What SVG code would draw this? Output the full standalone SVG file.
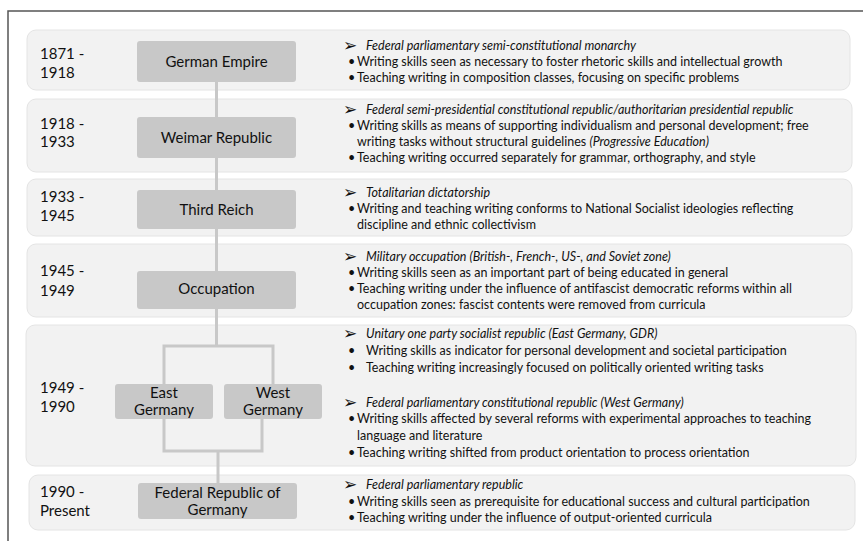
<svg xmlns="http://www.w3.org/2000/svg" width="863" height="541" viewBox="0 0 863 541">
<style>
.row{fill:#f2f2f2;stroke:#e4e4e4;stroke-width:1}
.node{fill:#c8c8c8}
.con{stroke:#c8c8c8;stroke-width:3;fill:none}
text{font-family:Lato,"Open Sans","Liberation Sans",sans-serif;fill:#111111}
.date{font-size:15px}
.nl{font-size:15px;text-anchor:middle}
.b{font-size:12.5px}
.h{font-size:12.5px;font-style:italic}
.ar{font-family:"DejaVu Sans",sans-serif;font-size:17px}
</style>
<rect width="863" height="541" fill="#ffffff"/>
<path d="M8 541 V11 H863" fill="none" stroke="#555555" stroke-width="1.5"/>
<g id="rows">
<rect class="row" x="27" y="30" width="823" height="60" rx="9"/>
<rect class="row" x="27" y="99" width="825" height="73" rx="9"/>
<rect class="row" x="27" y="179" width="825" height="57" rx="9"/>
<rect class="row" x="27" y="244" width="825" height="73" rx="9"/>
<rect class="row" x="26" y="325" width="830" height="141" rx="9"/>
<rect class="row" x="29" y="475" width="826" height="55" rx="9"/>
</g>
<g id="dates">
<text class="date" x="40" y="59">1871 -</text><text class="date" x="40" y="78">1918</text>
<text class="date" x="40" y="129">1918 -</text><text class="date" x="40" y="147">1933</text>
<text class="date" x="40" y="202">1933 -</text><text class="date" x="40" y="221">1945</text>
<text class="date" x="40" y="276">1945 -</text><text class="date" x="40" y="296">1949</text>
<text class="date" x="40" y="393">1949 -</text><text class="date" x="40" y="412">1990</text>
<text class="date" x="40" y="497">1990 -</text><text class="date" x="40" y="516">Present</text>
</g>
<g id="connectors">
<path class="con" d="M216.5 82 V346"/>
<path class="con" d="M164 384 V346 H273 V384"/>
<path class="con" d="M164 419 V451 H262 V419"/>
<path class="con" d="M218 451 V483"/>
</g>
<g id="german-empire"><rect class="node" x="137" y="41" width="159" height="41" rx="3"/><text class="nl" x="216.5" y="67">German Empire</text></g>
<g id="weimar-republic"><rect class="node" x="137" y="117" width="159" height="41" rx="3"/><text class="nl" x="216.5" y="142.5">Weimar Republic</text></g>
<g id="third-reich"><rect class="node" x="137" y="190" width="159" height="39" rx="3"/><text class="nl" x="216.5" y="215">Third Reich</text></g>
<g id="occupation"><rect class="node" x="137" y="271" width="159" height="38" rx="3"/><text class="nl" x="216.5" y="294">Occupation</text></g>
<g id="east-germany"><rect class="node" x="115" y="384" width="98" height="35" rx="3"/><text class="nl" x="164" y="397.5">East</text><text class="nl" x="164" y="414.5">Germany</text></g>
<g id="west-germany"><rect class="node" x="224" y="384" width="98" height="35" rx="3"/><text class="nl" x="273" y="397.5">West</text><text class="nl" x="273" y="414.5">Germany</text></g>
<g id="federal-republic"><rect class="node" x="138" y="483" width="159" height="36" rx="3"/><text class="nl" x="217.5" y="497.5">Federal Republic of</text><text class="nl" x="217.5" y="514.5">Germany</text></g>
<g id="descriptions">
<text class="ar" x="343" y="51">➢</text><text class="h" x="366" y="50">Federal parliamentary semi-constitutional monarchy</text>
<text class="b" x="348" y="66">•</text><text class="b" x="357" y="66">Writing skills seen as necessary to foster rhetoric skills and intellectual growth</text>
<text class="b" x="348" y="82">•</text><text class="b" x="357" y="82">Teaching writing in composition classes, focusing on specific problems</text>

<text class="ar" x="343" y="115">➢</text><text class="h" x="366" y="114">Federal semi-presidential constitutional republic/authoritarian presidential republic</text>
<text class="b" x="348" y="130">•</text><text class="b" x="357" y="130">Writing skills as means of supporting individualism and personal development; free</text>
<text class="b" x="357" y="146">writing tasks without structural guidelines <tspan font-style="italic">(Progressive Education)</tspan></text>
<text class="b" x="348" y="162">•</text><text class="b" x="357" y="162">Teaching writing occurred separately for grammar, orthography, and style</text>

<text class="ar" x="343" y="198">➢</text><text class="h" x="366" y="197">Totalitarian dictatorship</text>
<text class="b" x="348" y="213">•</text><text class="b" x="357" y="213">Writing and teaching writing conforms to National Socialist ideologies reflecting</text>
<text class="b" x="357" y="229">discipline and ethnic collectivism</text>

<text class="ar" x="343" y="262">➢</text><text class="h" x="366" y="261">Military occupation (British-, French-, US-, and Soviet zone)</text>
<text class="b" x="348" y="277">•</text><text class="b" x="357" y="277">Writing skills seen as an important part of being educated in general</text>
<text class="b" x="348" y="293">•</text><text class="b" x="357" y="293">Teaching writing under the influence of antifascist democratic reforms within all</text>
<text class="b" x="357" y="309">occupation zones: fascist contents were removed from curricula</text>

<text class="ar" x="343" y="339">➢</text><text class="h" x="366" y="338">Unitary one party socialist republic (East Germany, GDR)</text>
<text class="b" x="348" y="355">•</text><text class="b" x="366" y="355">Writing skills as indicator for personal development and societal participation</text>
<text class="b" x="348" y="372">•</text><text class="b" x="366" y="372">Teaching writing increasingly focused on politically oriented writing tasks</text>
<text class="ar" x="343" y="408">➢</text><text class="h" x="366" y="407">Federal parliamentary constitutional republic (West Germany)</text>
<text class="b" x="348" y="423">•</text><text class="b" x="357" y="423">Writing skills affected by several reforms with experimental approaches to teaching</text>
<text class="b" x="357" y="440">language and literature</text>
<text class="b" x="348" y="457">•</text><text class="b" x="357" y="457">Teaching writing shifted from product orientation to process orientation</text>

<text class="ar" x="343" y="490">➢</text><text class="h" x="366" y="489">Federal parliamentary republic</text>
<text class="b" x="348" y="506">•</text><text class="b" x="357" y="506">Writing skills seen as prerequisite for educational success and cultural participation</text>
<text class="b" x="348" y="522">•</text><text class="b" x="357" y="522">Teaching writing under the influence of output-oriented curricula</text>
</g>
</svg>
